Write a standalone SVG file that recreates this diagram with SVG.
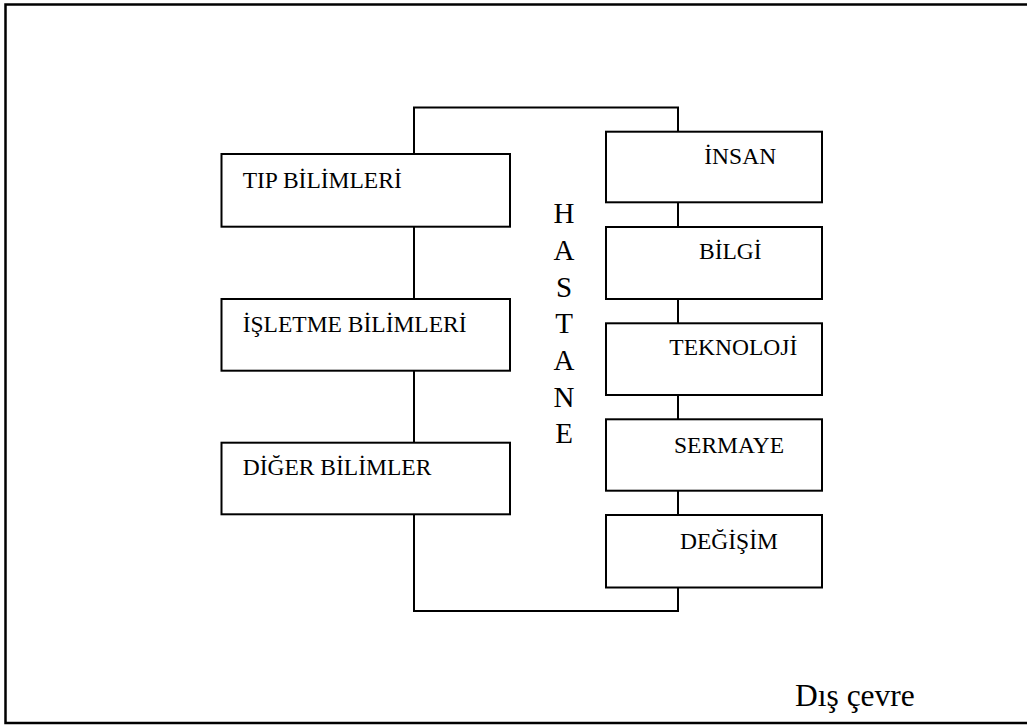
<svg xmlns="http://www.w3.org/2000/svg" width="1027" height="725" viewBox="0 0 1027 725">
<style>
.box{fill:#fff;stroke:#000;stroke-width:2}
.ln{fill:none;stroke:#000;stroke-width:2}
.t{font-family:"Liberation Serif","Times New Roman",serif;font-size:23.5px;fill:#000}
.h{font-family:"Liberation Serif","Times New Roman",serif;font-size:29px;fill:#000;text-anchor:middle}
.d{font-family:"Liberation Serif","Times New Roman",serif;font-size:31.5px;fill:#000}
</style>
<rect width="1027" height="725" fill="#fff"/>
<rect id="frame" x="5.5" y="4.5" width="1030" height="718.5" fill="none" stroke="#000" stroke-width="2.5"/>
<g id="connectors">
<polyline class="ln" points="414,154 414,107.5 678,107.5 678,131.7"/>
<line class="ln" x1="414" y1="226.7" x2="414" y2="299"/>
<line class="ln" x1="414" y1="370.7" x2="414" y2="442.7"/>
<polyline class="ln" points="414,514.3 414,611 678,611 678,587.5"/>
<line class="ln" x1="678" y1="202.3" x2="678" y2="227"/>
<line class="ln" x1="678" y1="299" x2="678" y2="323.3"/>
<line class="ln" x1="678" y1="395" x2="678" y2="419.3"/>
<line class="ln" x1="678" y1="490.7" x2="678" y2="515"/>
</g>
<g id="tip"><rect class="box" x="221.5" y="154" width="288.5" height="72.7"/><text class="t" x="242.7" y="188.3">TIP BİLİMLERİ</text></g>
<g id="isletme"><rect class="box" x="221.5" y="299" width="288.5" height="71.7"/><text class="t" x="242.7" y="331.7">İŞLETME BİLİMLERİ</text></g>
<g id="diger"><rect class="box" x="221.5" y="442.7" width="288.5" height="71.6"/><text class="t" x="242.7" y="475">DİĞER BİLİMLER</text></g>
<g id="insan"><rect class="box" x="606" y="131.7" width="216" height="70.6"/><text class="t" x="704.3" y="164">İNSAN</text></g>
<g id="bilgi"><rect class="box" x="606" y="227" width="216" height="72"/><text class="t" x="699" y="259.3">BİLGİ</text></g>
<g id="teknoloji"><rect class="box" x="606" y="323.3" width="216" height="71.7"/><text class="t" x="669.3" y="355">TEKNOLOJİ</text></g>
<g id="sermaye"><rect class="box" x="606" y="419.3" width="216" height="71.4"/><text class="t" x="674" y="452.7">SERMAYE</text></g>
<g id="degisim"><rect class="box" x="606" y="515" width="216" height="72.5"/><text class="t" x="680" y="549.3">DEĞİŞİM</text></g>
<g id="hastane">
<text class="h" x="564" y="223.3">H</text>
<text class="h" x="564" y="260">A</text>
<text class="h" x="564" y="296.7">S</text>
<text class="h" x="564" y="333.3">T</text>
<text class="h" x="564" y="370">A</text>
<text class="h" x="564" y="406.7">N</text>
<text class="h" x="564" y="443.3">E</text>
</g>
<g id="dis-cevre"><text class="d" x="795" y="706">Dış çevre</text></g>
</svg>
